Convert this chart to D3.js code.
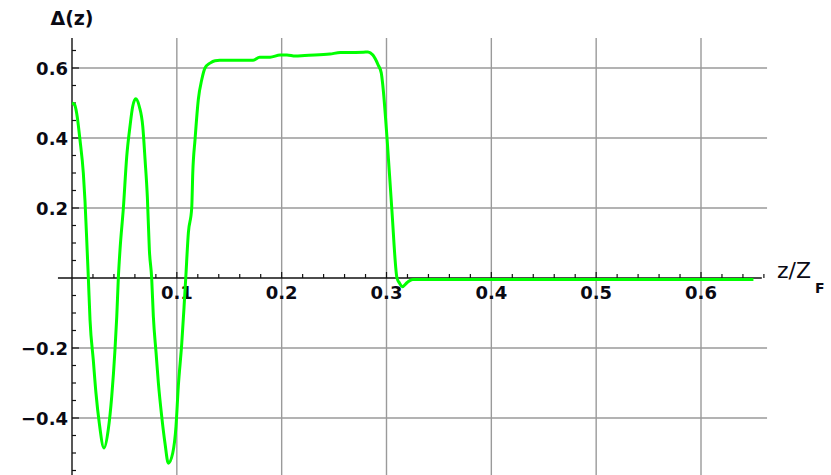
<!DOCTYPE html>
<html>
<head>
<meta charset="utf-8">
<script src="https://cdn.jsdelivr.net/npm/d3@7"></script>
<style>
  body { margin: 0; background: #fff; }
  text { font-family: "DejaVu Sans", Verdana, sans-serif; fill: #0a0a14; }
</style>
</head>
<body>
<div id="chart"></div>
<script>
// z / Z_F values and Delta(z)
var zVals = [0, 0.0025, 0.0045, 0.0076, 0.0108, 0.0124, 0.0146, 0.0156, 0.0172, 0.0203, 0.0229, 0.026, 0.0305,
    0.0346, 0.0379, 0.041, 0.0427, 0.0442, 0.0458, 0.049, 0.0522, 0.0553, 0.0579, 0.0608, 0.0642,
    0.0675, 0.0697, 0.0719, 0.0738, 0.076, 0.0776, 0.0802, 0.0824, 0.0856, 0.0887, 0.0919, 0.0961,
    0.0992, 0.1014, 0.1047, 0.1069, 0.1085, 0.111, 0.1142, 0.1152, 0.1174, 0.1205, 0.1238, 0.1269,
    0.1317, 0.1365, 0.141, 0.1727, 0.179, 0.189, 0.1985, 0.205, 0.213, 0.222, 0.246, 0.256, 0.278,
    0.2824, 0.287, 0.292, 0.295, 0.2965, 0.3005, 0.305, 0.310, 0.3125, 0.315, 0.320, 0.325, 0.65];
var deltaVals = [0.50, 0.495, 0.47, 0.395, 0.30, 0.22, 0.07, 0, -0.12, -0.234, -0.33, -0.414, -0.486,
    -0.433, -0.338, -0.205, -0.11, 0, 0.081, 0.2, 0.347, 0.433, 0.49, 0.512, 0.49,
    0.433, 0.338, 0.23, 0.08, 0, -0.11, -0.214, -0.3, -0.396, -0.472, -0.529, -0.5,
    -0.424, -0.31, -0.187, -0.082, 0, 0.129, 0.2, 0.3, 0.397, 0.51, 0.567, 0.6,
    0.614, 0.621, 0.622, 0.622, 0.631, 0.631, 0.637, 0.637, 0.634, 0.636, 0.640, 0.644, 0.645,
    0.646, 0.637, 0.609, 0.586, 0.55, 0.40, 0.20, 0.0, -0.015, -0.025, -0.012, -0.004, -0.004];

var xTickLabels = [0.1, 0.2, 0.3, 0.4, 0.5, 0.6];
var yTickLabels = [-0.4, -0.2, 0.2, 0.4, 0.6];

var width = 831, height = 475;

var svg = d3.select("#chart")
    .append("svg")
    .attr("width", width)
    .attr("height", height);

// scales: origin at (72, 278)
var x = d3.scaleLinear().domain([0, 0.6]).range([72, 701]);
var y = d3.scaleLinear().domain([0, 0.6]).range([278, 68]);

var xMin = -0.0134, xMax = 0.658, yMin = -0.565, yMax = 0.686;

// grid lines
svg.selectAll(".vgrid")
    .data(xTickLabels)
    .enter().append("line")
    .attr("x1", function(d) { return x(d); })
    .attr("x2", function(d) { return x(d); })
    .attr("y1", y(yMax))
    .attr("y2", y(yMin))
    .attr("stroke", "#9a9a9a")
    .attr("stroke-width", 1.4);

svg.selectAll(".hgrid")
    .data(yTickLabels)
    .enter().append("line")
    .attr("x1", x(0))
    .attr("x2", x(0.663))
    .attr("y1", function(d) { return y(d); })
    .attr("y2", function(d) { return y(d); })
    .attr("stroke", "#9a9a9a")
    .attr("stroke-width", 1.4);

// axes
svg.append("line")
    .attr("x1", x(xMin)).attr("x2", x(xMax))
    .attr("y1", y(0)).attr("y2", y(0))
    .attr("stroke", "#111").attr("stroke-width", 1.4);

svg.append("line")
    .attr("x1", x(0)).attr("x2", x(0))
    .attr("y1", y(yMax)).attr("y2", y(yMin))
    .attr("stroke", "#111").attr("stroke-width", 1.4);

// x ticks (pointing up)
var xMinor = d3.range(1, 34).map(function(i) { return i * 0.02; });
svg.selectAll(".xtick")
    .data(xMinor)
    .enter().append("line")
    .attr("x1", function(d) { return x(d); })
    .attr("x2", function(d) { return x(d); })
    .attr("y1", y(0))
    .attr("y2", function(d, i) { return y(0) - ((i + 1) % 5 === 0 ? 6 : 4); })
    .attr("stroke", "#111").attr("stroke-width", 1.2);

// y ticks (pointing right)
var yMinor = d3.range(-11, 14).filter(function(i) { return i !== 0; }).map(function(i) { return i * 0.05; });
svg.selectAll(".ytick")
    .data(yMinor)
    .enter().append("line")
    .attr("x1", x(0))
    .attr("x2", function(d) { return x(0) + (Math.abs(Math.round(d * 20)) % 4 === 0 ? 7 : 4); })
    .attr("y1", function(d) { return y(d); })
    .attr("y2", function(d) { return y(d); })
    .attr("stroke", "#111").attr("stroke-width", 1.2);

// tick labels
svg.selectAll(".xlabel")
    .data(xTickLabels)
    .enter().append("text")
    .attr("x", function(d) { return x(d); })
    .attr("y", y(0) + 21)
    .attr("text-anchor", "middle")
    .style("font-size", "18px")
    .style("font-weight", "bold")
    .text(function(d) { return d3.format(".1f")(d); });

svg.selectAll(".ylabel")
    .data(yTickLabels)
    .enter().append("text")
    .attr("x", x(0) - 4)
    .attr("y", function(d) { return y(d) + 7; })
    .attr("text-anchor", "end")
    .style("font-size", "18px")
    .style("font-weight", "bold")
    .text(function(d) { return (d < 0 ? "\u2212" : "") + d3.format(".1f")(Math.abs(d)); });

// axis labels
svg.append("text")
    .attr("x", x(0))
    .attr("y", 25)
    .attr("text-anchor", "middle")
    .style("font-size", "19px")
    .style("font-weight", "bold")
    .text("\u0394(z)");

svg.append("text")
    .attr("x", 777)
    .attr("y", 278)
    .style("font-size", "22px")
    .text("z/Z");

svg.append("text")
    .attr("x", 815)
    .attr("y", 293)
    .style("font-size", "14px")
    .style("font-weight", "bold")
    .text("F");

// the curve
var line = d3.line()
    .curve(d3.curveMonotoneX)
    .x(function(d) { return x(d[0]); })
    .y(function(d) { return y(d[1]); });

svg.append("path")
    .datum(d3.zip(zVals, deltaVals))
    .attr("d", line)
    .attr("fill", "none")
    .attr("stroke", "#00ff00")
    .attr("stroke-width", 3)
    .attr("stroke-linejoin", "round");
</script>
</body>
</html>
